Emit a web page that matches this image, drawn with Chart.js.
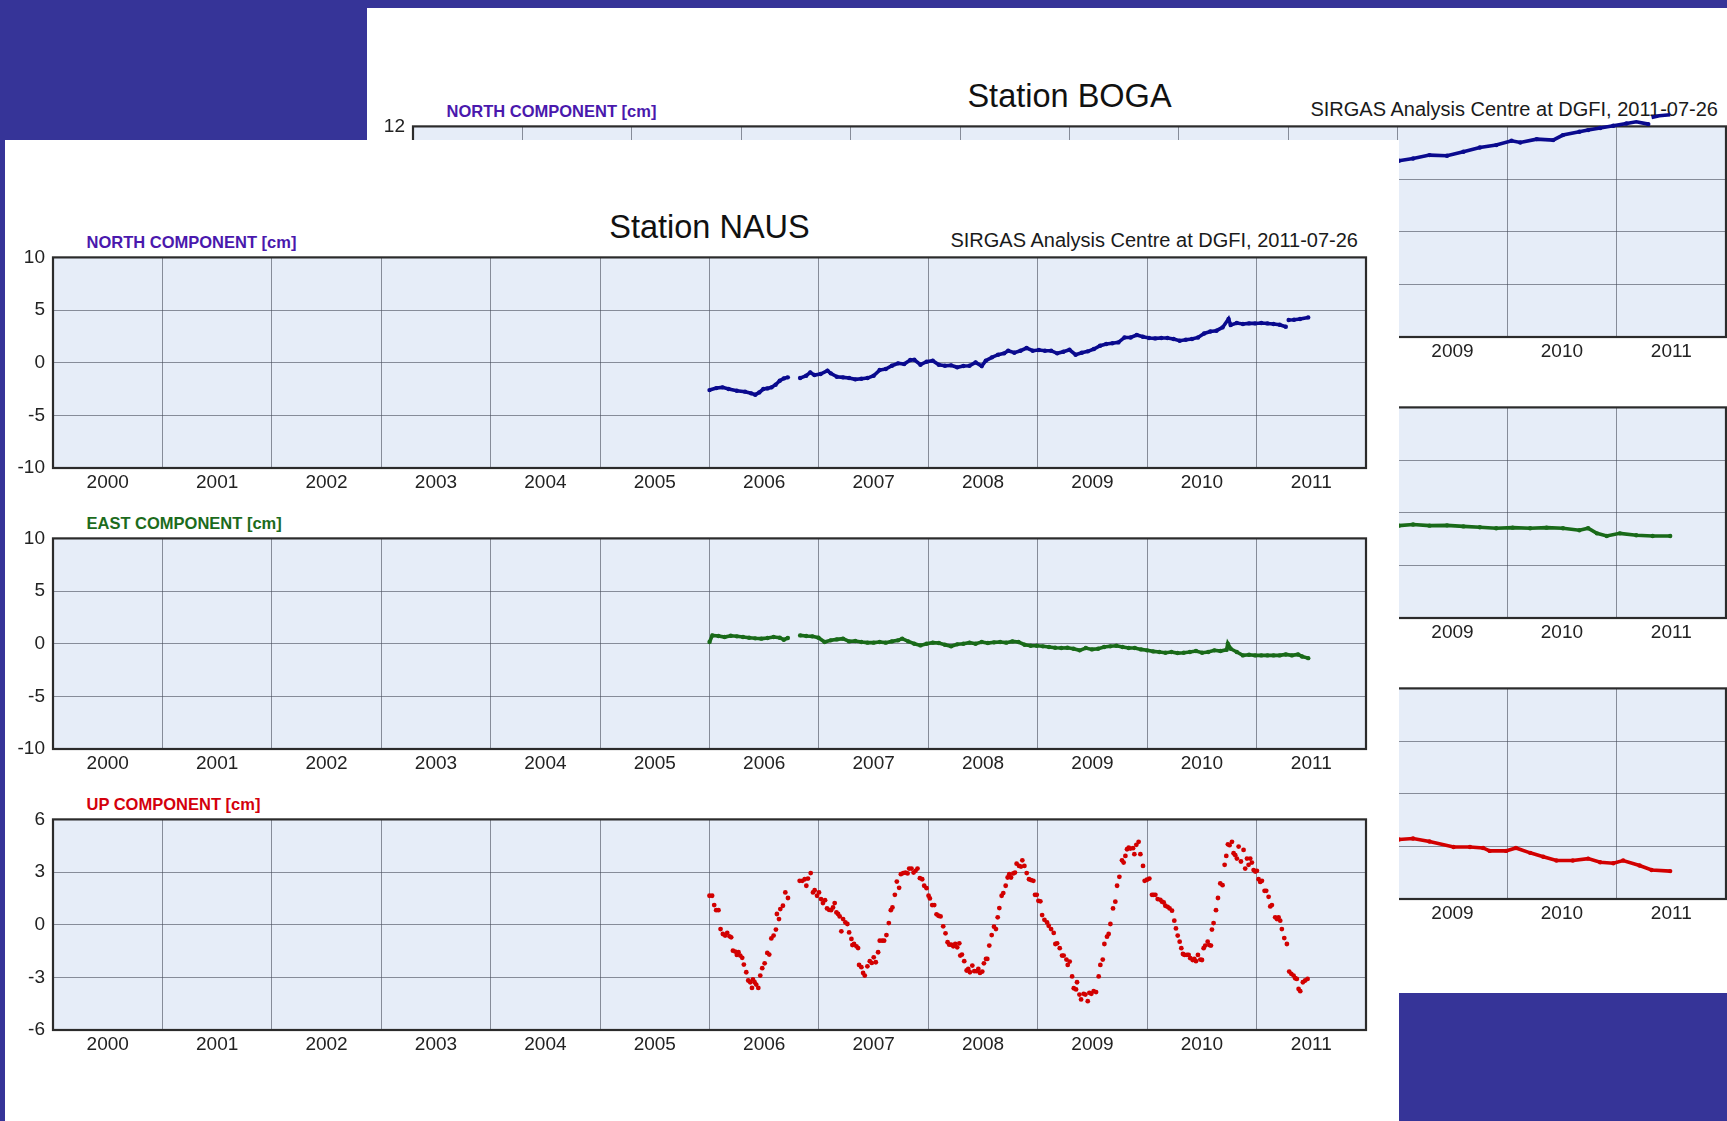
<!DOCTYPE html>
<html><head><meta charset="utf-8">
<script src="https://cdn.jsdelivr.net/npm/chart.js@4.4.1/dist/chart.umd.min.js"></script>
<style>
html,body{margin:0;padding:0;}
body{width:1727px;height:1121px;overflow:hidden;background:#363498;position:relative;font-family:"Liberation Sans",Arial,sans-serif;}
.panel{position:absolute;background:#fff;}
.txt{position:absolute;white-space:nowrap;line-height:1;}
canvas{position:absolute;}
</style></head><body>
<script>
// ---------- data ----------
const X_YEARS = [2000,2001,2002,2003,2004,2005,2006,2007,2008,2009,2010,2011];
const NE_TICKS = [-10,-5,0,5,10];
const UP_TICKS = [-6,-3,0,3,6];
const BOGA_N_TICKS = [-12,-6,0,6,12];

const NAUS_NORTH = [[2006.000,-2.60],[2006.063,-2.41],[2006.119,-2.34],[2006.175,-2.50],[2006.250,-2.66],[2006.325,-2.75],[2006.380,-2.91],[2006.418,-3.04],[2006.455,-2.82],[2006.492,-2.50],[2006.530,-2.44],[2006.567,-2.34],[2006.604,-2.09],[2006.642,-1.71],[2006.679,-1.49],[2006.716,-1.39],[2006.77,null],
[2006.828,-1.46],[2006.884,-1.24],[2006.921,-0.92],[2006.959,-1.17],[2007.015,-1.08],[2007.078,-0.76],[2007.108,-1.01],[2007.164,-1.33],[2007.220,-1.39],[2007.276,-1.46],[2007.332,-1.58],[2007.388,-1.52],[2007.444,-1.46],[2007.500,-1.24],[2007.555,-0.70],[2007.611,-0.60],[2007.667,-0.29],[2007.723,-0.06],[2007.779,-0.13],[2007.835,0.25],[2007.872,0.28],[2007.928,-0.19],[2007.984,0.09],[2008.040,0.19],[2008.096,-0.19],[2008.152,-0.29],[2008.208,-0.25],[2008.264,-0.44],[2008.320,-0.32],[2008.376,-0.29],[2008.432,0.03],[2008.488,-0.32],[2008.525,0.19],[2008.581,0.51],[2008.637,0.76],[2008.693,0.89],[2008.730,1.14],[2008.786,0.95],[2008.842,1.14],[2008.898,1.39],[2008.954,1.14],[2009.010,1.20],[2009.066,1.14],[2009.122,1.14],[2009.178,0.89],[2009.234,1.04],[2009.290,1.23],[2009.346,0.76],[2009.402,0.95],[2009.458,1.08],[2009.513,1.30],[2009.570,1.61],[2009.626,1.77],[2009.682,1.84],[2009.737,1.93],[2009.793,2.40],[2009.849,2.40],[2009.905,2.63],[2009.961,2.47],[2010.017,2.34],[2010.073,2.31],[2010.129,2.34],[2010.185,2.34],[2010.241,2.25],[2010.297,2.09],[2010.353,2.18],[2010.409,2.25],[2010.465,2.40],[2010.521,2.78],[2010.577,2.97],[2010.633,3.04],[2010.689,3.35],[2010.744,4.15],[2010.763,3.58],[2010.819,3.77],[2010.875,3.67],[2010.931,3.73],[2010.987,3.73],[2011.043,3.77],[2011.099,3.73],[2011.155,3.67],[2011.211,3.61],[2011.267,3.42],[2011.28,null],
[2011.293,4.05],[2011.342,4.08],[2011.397,4.15],[2011.472,4.30]];

const NAUS_EAST = [[2006.000,0.16],[2006.026,0.79],[2006.082,0.73],[2006.138,0.63],[2006.194,0.76],[2006.250,0.70],[2006.306,0.63],[2006.362,0.57],[2006.418,0.51],[2006.474,0.48],[2006.530,0.54],[2006.586,0.63],[2006.642,0.57],[2006.679,0.38],[2006.716,0.54],[2006.77,null],
[2006.828,0.79],[2006.884,0.73],[2006.940,0.70],[2006.996,0.57],[2007.052,0.16],[2007.108,0.32],[2007.164,0.41],[2007.220,0.48],[2007.276,0.22],[2007.332,0.25],[2007.388,0.16],[2007.444,0.10],[2007.500,0.10],[2007.555,0.16],[2007.611,0.10],[2007.667,0.22],[2007.723,0.32],[2007.761,0.48],[2007.817,0.22],[2007.872,0.00],[2007.928,-0.16],[2007.984,0.00],[2008.040,0.10],[2008.096,0.06],[2008.152,-0.10],[2008.208,-0.25],[2008.264,-0.06],[2008.320,0.00],[2008.376,0.10],[2008.432,0.00],[2008.488,0.16],[2008.544,0.06],[2008.600,0.13],[2008.656,0.16],[2008.712,0.10],[2008.768,0.22],[2008.824,0.16],[2008.880,-0.10],[2008.936,-0.19],[2008.991,-0.19],[2009.047,-0.25],[2009.103,-0.32],[2009.159,-0.38],[2009.215,-0.41],[2009.271,-0.38],[2009.327,-0.48],[2009.383,-0.63],[2009.439,-0.41],[2009.495,-0.54],[2009.551,-0.48],[2009.607,-0.32],[2009.663,-0.25],[2009.719,-0.19],[2009.775,-0.32],[2009.831,-0.41],[2009.887,-0.41],[2009.943,-0.54],[2009.999,-0.63],[2010.055,-0.73],[2010.111,-0.79],[2010.167,-0.86],[2010.222,-0.79],[2010.278,-0.89],[2010.334,-0.86],[2010.390,-0.79],[2010.446,-0.70],[2010.502,-0.86],[2010.558,-0.79],[2010.614,-0.63],[2010.670,-0.70],[2010.726,-0.57],[2010.737,0.00],[2010.763,-0.48],[2010.819,-0.79],[2010.875,-1.11],[2010.931,-1.05],[2010.987,-1.11],[2011.043,-1.11],[2011.099,-1.11],[2011.155,-1.11],[2011.211,-1.11],[2011.267,-1.02],[2011.323,-1.11],[2011.379,-1.02],[2011.416,-1.21],[2011.472,-1.37]];

const NAUS_UP = [[2006.000,1.65],[2006.024,1.65],[2006.043,1.12],[2006.061,0.83],[2006.082,0.83],[2006.101,-0.25],[2006.122,-0.53],[2006.143,-0.62],[2006.162,-0.47],[2006.183,-0.66],[2006.198,-0.72],[2006.214,-1.48],[2006.235,-1.53],[2006.250,-1.72],[2006.265,-1.57],[2006.281,-1.76],[2006.299,-1.89],[2006.314,-2.27],[2006.336,-2.71],[2006.354,-3.18],[2006.372,-3.28],[2006.388,-3.60],[2006.397,-3.12],[2006.412,-3.28],[2006.427,-3.41],[2006.446,-3.60],[2006.464,-2.90],[2006.482,-2.48],[2006.504,-2.20],[2006.528,-1.61],[2006.546,-1.70],[2006.565,-0.78],[2006.586,-0.62],[2006.607,-0.28],[2006.616,0.61],[2006.635,0.32],[2006.647,0.89],[2006.671,1.08],[2006.693,1.84],[2006.717,1.52],
[2006.824,2.50],[2006.848,2.50],[2006.870,2.59],[2006.885,2.22],[2006.900,2.63],[2006.925,2.94],[2006.946,1.84],[2006.961,1.97],[2006.983,1.65],[2007.001,1.84],[2007.019,1.46],[2007.037,1.23],[2007.056,1.40],[2007.074,0.93],[2007.092,0.85],[2007.111,0.83],[2007.129,0.98],[2007.144,1.23],[2007.160,0.70],[2007.175,0.61],[2007.190,0.47],[2007.205,-0.38],[2007.221,0.32],[2007.242,0.13],[2007.260,0.04],[2007.276,-0.44],[2007.297,-0.81],[2007.306,-1.16],[2007.321,-1.10],[2007.343,-1.23],[2007.358,-1.33],[2007.367,-2.29],[2007.388,-2.42],[2007.404,-2.75],[2007.419,-2.90],[2007.443,-2.37],[2007.465,-2.08],[2007.483,-2.18],[2007.501,-1.86],[2007.520,-2.14],[2007.541,-1.57],[2007.556,-0.91],[2007.578,-0.91],[2007.596,-0.91],[2007.617,-0.59],[2007.639,0.09],[2007.657,0.83],[2007.672,0.98],[2007.694,1.70],[2007.712,2.46],[2007.733,2.10],[2007.749,2.88],[2007.770,2.94],[2007.791,2.97],[2007.810,2.92],[2007.825,3.20],[2007.846,3.20],[2007.865,2.97],[2007.883,3.07],[2007.901,3.20],[2007.923,2.65],[2007.944,2.59],[2007.962,2.22],[2007.984,2.08],
[2008.002,1.65],[2008.014,1.50],[2008.035,1.12],[2008.054,1.12],[2008.075,0.59],[2008.093,0.51],[2008.112,0.47],[2008.136,-0.09],[2008.157,-0.49],[2008.176,-1.00],[2008.191,-1.14],[2008.209,-1.14],[2008.228,-1.23],[2008.246,-1.10],[2008.264,-1.29],[2008.283,-1.06],[2008.292,-1.76],[2008.307,-1.70],[2008.328,-2.08],[2008.350,-2.61],[2008.365,-2.52],[2008.380,-2.71],[2008.402,-2.33],[2008.420,-2.65],[2008.441,-2.65],[2008.457,-2.52],[2008.472,-2.75],[2008.493,-2.67],[2008.508,-2.20],[2008.527,-1.95],[2008.539,-1.95],[2008.557,-1.19],[2008.579,-0.59],[2008.600,-0.11],[2008.618,-0.25],[2008.634,0.42],[2008.649,0.95],[2008.670,1.65],[2008.685,1.80],[2008.707,2.22],[2008.725,2.69],[2008.740,2.88],[2008.756,2.69],[2008.777,2.92],[2008.792,2.97],[2008.807,3.48],[2008.829,3.35],[2008.847,3.31],[2008.859,3.67],[2008.878,3.35],[2008.899,2.94],[2008.920,2.59],[2008.939,2.54],[2008.960,2.50],[2008.975,1.70],[2008.991,1.70],[2009.006,1.36],
[2009.024,1.33],[2009.040,0.55],[2009.061,0.28],[2009.085,0.13],[2009.100,-0.06],[2009.122,-0.25],[2009.146,-0.47],[2009.161,-1.10],[2009.177,-1.06],[2009.201,-1.34],[2009.222,-1.76],[2009.237,-1.76],[2009.262,-1.99],[2009.274,-2.29],[2009.292,-2.10],[2009.314,-2.95],[2009.329,-3.62],[2009.350,-3.69],[2009.359,-3.28],[2009.381,-3.98],[2009.396,-4.26],[2009.420,-3.94],[2009.435,-3.98],[2009.457,-4.36],[2009.472,-3.88],[2009.490,-3.94],[2009.511,-3.79],[2009.533,-3.84],[2009.557,-2.95],[2009.572,-2.29],[2009.594,-1.99],[2009.609,-1.10],[2009.633,-0.68],[2009.648,-0.53],[2009.664,0.04],[2009.688,0.93],[2009.709,1.31],[2009.725,2.22],[2009.746,2.73],[2009.770,3.67],[2009.785,3.54],[2009.801,3.92],[2009.816,4.30],[2009.831,4.39],[2009.846,4.34],[2009.871,4.36],[2009.883,4.02],[2009.901,4.55],[2009.922,4.72],[2009.938,4.02],[2009.962,3.35],[2009.977,2.50],[2009.998,2.56],
[2010.020,2.63],[2010.044,1.70],[2010.059,1.70],[2010.075,1.70],[2010.096,1.46],[2010.120,1.42],[2010.135,1.31],[2010.151,1.27],[2010.166,1.08],[2010.187,1.02],[2010.205,0.93],[2010.227,0.80],[2010.248,0.23],[2010.263,-0.21],[2010.279,-0.62],[2010.297,-0.97],[2010.312,-1.34],[2010.327,-1.67],[2010.342,-1.72],[2010.364,-1.72],[2010.379,-1.72],[2010.394,-1.91],[2010.416,-2.01],[2010.431,-1.95],[2010.446,-2.08],[2010.464,-1.72],[2010.486,-1.99],[2010.501,-2.01],[2010.516,-1.34],[2010.531,-1.19],[2010.553,-0.97],[2010.568,-1.16],[2010.583,-1.19],[2010.592,-0.28],[2010.607,0.09],[2010.629,0.83],[2010.647,1.52],[2010.668,2.35],[2010.689,2.25],[2010.708,3.41],[2010.723,3.92],[2010.738,4.58],[2010.753,4.53],[2010.775,4.72],[2010.790,4.07],[2010.805,3.96],[2010.820,3.77],[2010.836,4.45],[2010.857,3.60],[2010.881,4.26],[2010.896,3.20],[2010.912,3.77],[2010.927,3.41],[2010.942,3.77],[2010.957,3.54],[2010.973,3.11],[2010.988,3.03],
[2011.003,3.07],[2011.018,2.59],[2011.033,2.44],[2011.049,2.50],[2011.073,1.93],[2011.088,1.93],[2011.110,1.59],[2011.125,1.04],[2011.140,1.12],[2011.170,0.42],[2011.186,0.32],[2011.201,0.42],[2011.216,0.23],[2011.231,-0.25],[2011.253,-0.76],[2011.277,-1.10],[2011.298,-2.67],[2011.317,-2.80],[2011.338,-2.90],[2011.353,-3.05],[2011.368,-3.09],[2011.384,-3.66],[2011.399,-3.79],[2011.423,-3.28],[2011.444,-3.18],[2011.466,-3.09]];

const BOGA_NORTH = [[2008.90,7.95],[2009.01,8.09],[2009.14,8.35],[2009.29,8.73],[2009.45,8.66],[2009.60,9.11],[2009.75,9.60],[2009.90,9.87],[2010.04,10.36],[2010.12,10.17],[2010.27,10.55],[2010.42,10.44],[2010.51,11.01],[2010.66,11.39],[2010.74,11.58],[2010.85,11.81],[2010.97,12.07],[2011.09,12.33],[2011.18,12.52],[2011.29,12.26],[2011.305,null],[2011.32,13.01],[2011.39,13.21],[2011.49,13.32]];
const BOGA_EAST = [[2008.90,-1.20],[2009.01,-1.23],[2009.14,-1.12],[2009.29,-1.23],[2009.45,-1.20],[2009.60,-1.30],[2009.75,-1.38],[2009.90,-1.48],[2010.05,-1.42],[2010.21,-1.48],[2010.36,-1.42],[2010.51,-1.48],[2010.66,-1.67],[2010.74,-1.48],[2010.82,-1.96],[2010.91,-2.21],[2011.03,-1.96],[2011.18,-2.14],[2011.33,-2.21],[2011.49,-2.21]];
const BOGA_UP = [[2008.90,-2.55],[2009.01,-2.61],[2009.14,-2.55],[2009.29,-2.72],[2009.51,-3.04],[2009.66,-3.04],[2009.78,-3.09],[2009.84,-3.26],[2009.99,-3.26],[2010.08,-3.09],[2010.21,-3.37],[2010.33,-3.59],[2010.45,-3.81],[2010.60,-3.81],[2010.74,-3.70],[2010.85,-3.91],[2010.97,-3.96],[2011.06,-3.81],[2011.21,-4.09],[2011.32,-4.35],[2011.49,-4.41]];

// ---------- styling ----------
const FONT = '"Liberation Sans", Arial, Helvetica, sans-serif';
const C_NORTH = '#0a0a8e', C_EAST = '#196a19', C_UP = '#d20000';
const L_NORTH = '#4a18ad', L_EAST = '#1c6b1c', L_UP = '#d4000c';
const PLOT_BG = '#e6edf8', GRID = 'rgba(70,75,90,0.6)', FRAME = '#2b2b2b';
const PW = 1313, PH = 211, YW = 50, PT = 14, PR = 6, XH = 30, PB = 4;
const OFFS = [0, 281.6, 562.6];

const framePlugin = {
  id: 'frame',
  beforeDraw(chart) {
    const {ctx, chartArea: a} = chart;
    ctx.save(); ctx.fillStyle = PLOT_BG;
    ctx.fillRect(a.left, a.top, a.right - a.left, a.bottom - a.top); ctx.restore();
  },
  beforeDatasetsDraw(chart) {
    const {ctx, chartArea: a} = chart;
    ctx.save(); ctx.strokeStyle = FRAME; ctx.lineWidth = 2.2;
    ctx.strokeRect(a.left, a.top, a.right - a.left, a.bottom - a.top); ctx.restore();
  }
};

function addDiv(cls, styles, text) {
  const d = document.createElement('div');
  d.className = cls; Object.assign(d.style, styles);
  if (text !== undefined) d.textContent = text;
  document.body.appendChild(d); return d;
}
function addText(text, x, baseline, size, opts) {
  const top = baseline - 0.8465 * size;
  const st = {top: top + 'px', fontSize: size + 'px', color: opts.color || '#111', fontWeight: opts.bold ? 'bold' : 'normal', fontFamily: FONT};
  if (opts.align === 'center') { st.left = x + 'px'; st.transform = 'translateX(-50%)'; }
  else if (opts.align === 'right') { st.right = (1727 - x) + 'px'; }
  else { st.left = x + 'px'; }
  addDiv('txt', st, text);
}

function buildPlot(L, T, spec, extra) {
  const c = document.createElement('canvas');
  c.width = PW + YW + PR; c.height = PH + PT + XH + PB + extra;
  Object.assign(c.style, {left: (L - YW) + 'px', top: (T - PT - extra) + 'px', width: c.width + 'px', height: c.height + 'px'});
  document.body.appendChild(c);
  const pts = spec.data.map(([x, y]) => ({x, y}));
  const ds = spec.dots
    ? {data: pts, showLine: false, pointRadius: 2.4, pointBackgroundColor: spec.color, pointBorderWidth: 0, clip: false}
    : {data: pts, showLine: true, spanGaps: false, borderColor: spec.color, borderWidth: 3.6, pointRadius: 2.2,
       pointBackgroundColor: spec.color, pointBorderWidth: 0, tension: 0, clip: false};
  const tickFont = {size: 19, family: FONT};
  const chart = new Chart(c, {
    type: 'scatter',
    data: {datasets: [ds]},
    options: {
      responsive: false, animation: false, devicePixelRatio: 1,
      events: [],
      layout: {padding: {left: 0, top: PT, right: PR, bottom: PB}},
      plugins: {legend: {display: false}, tooltip: {enabled: false}},
      scales: {
        x: {
          type: 'linear', min: 2000, max: 2012,
          afterBuildTicks: ax => { ax.ticks = X_YEARS.map(y => ({value: y + 0.5})); },
          afterFit: ax => { ax.height = XH; },
          grid: {offset: true, color: GRID, lineWidth: 1, drawTicks: false},
          border: {display: false},
          ticks: {padding: 3, color: '#222', font: tickFont, maxRotation: 0, autoSkip: false,
                  callback: v => String(Math.floor(v))}
        },
        y: {
          type: 'linear', min: spec.ticks[0], max: spec.ticks[spec.ticks.length - 1],
          afterBuildTicks: ax => { ax.ticks = spec.ticks.map(v => ({value: v})); },
          afterFit: ax => { ax.width = YW; },
          grid: {color: GRID, lineWidth: 1, drawTicks: false},
          border: {display: false},
          ticks: {padding: 8, color: '#222', font: tickFont, callback: v => String(v)}
        }
      }
    },
    plugins: [framePlugin]
  });
  return {chart, canvas: c};
}

function makePlot(L, T, spec) {
  let p = buildPlot(L, T, spec, 0);
  const extra = p.chart.chartArea.top - PT;
  if (extra > 0.3) {
    p.chart.destroy(); p.canvas.remove();
    p = buildPlot(L, T, spec, extra);
  }
}

function addFigure(f) {
  addDiv('panel', {left: f.panel[0] + 'px', top: f.panel[1] + 'px', width: f.panel[2] + 'px', height: f.panel[3] + 'px'});
  const ox = f.ox, oy = f.oy;
  addText('Station ' + f.name, ox + PW / 2, oy - 18, 32.5, {align: 'center', color: '#111'});
  addText('SIRGAS Analysis Centre at DGFI, 2011-07-26', ox + PW - 8, oy - 9.5, 20, {align: 'right', color: '#1a1a1a'});
  const comps = [
    {label: 'NORTH COMPONENT [cm]', lc: L_NORTH, color: C_NORTH, data: f.north, ticks: f.nTicks},
    {label: 'EAST COMPONENT [cm]', lc: L_EAST, color: C_EAST, data: f.east, ticks: NE_TICKS},
    {label: 'UP COMPONENT [cm]', lc: L_UP, color: C_UP, data: f.up, ticks: f.uTicks, dots: f.upDots}
  ];
  comps.forEach((cp, i) => {
    const T = Math.round(oy + OFFS[i]);
    addText(cp.label, ox + 33.5, T - 9, 16.5, {bold: true, color: cp.lc});
    makePlot(ox, T, cp);
  });
}

addFigure({name: 'BOGA', panel: [367, 8, 1360, 985], ox: 413, oy: 125.6,
  north: BOGA_NORTH, east: BOGA_EAST, up: BOGA_UP, nTicks: BOGA_N_TICKS, uTicks: UP_TICKS, upDots: false});
addFigure({name: 'NAUS', panel: [5, 140, 1394, 981], ox: 53, oy: 256.7,
  north: NAUS_NORTH, east: NAUS_EAST, up: NAUS_UP, nTicks: NE_TICKS, uTicks: UP_TICKS, upDots: true});
</script>
</body></html>
